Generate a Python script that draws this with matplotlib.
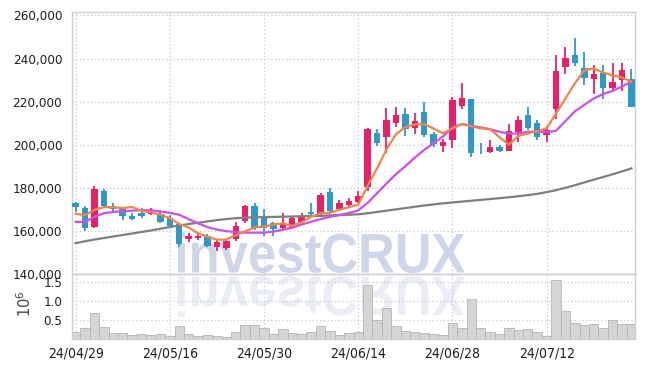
import matplotlib
matplotlib.use('Agg')
import matplotlib.pyplot as plt
import numpy as np
from matplotlib import font_manager as fm
from matplotlib.textpath import TextPath
from matplotlib.font_manager import FontProperties
from matplotlib.patches import PathPatch
from matplotlib.transforms import Affine2D, IdentityTransform

# ---------------- data (prices in thousand won, volume in millions) ----------------
opens = [173.0, 170.8, 162.0, 178.7, 171.6, 170.2, 167.1, 168.2, 167.8, 167.9,
         166.2, 163.1, 156.3, 156.6, 157.5, 152.7, 152.0, 156.3, 164.8, 171.6,
         166.0, 163.6, 161.3, 161.7, 164.3, 168.7, 167.9, 178.1, 170.2, 172.1,
         173.6, 180.6, 205.3, 203.5, 210.0, 214.3, 207.9, 215.2, 205.0, 199.6,
         202.2, 218.0, 221.3, 198.7, 196.8, 199.1, 197.3, 205.8, 213.8, 210.0,
         204.6, 216.5, 236.0, 241.7, 235.5, 230.7, 233.2, 226.5, 230.1, 230.5]
highs = [173.3, 171.6, 181.0, 179.3, 172.9, 170.5, 168.2, 170.5, 170.8, 169.0,
         167.4, 163.5, 159.2, 159.2, 158.5, 156.0, 156.0, 164.3, 171.8, 172.9,
         170.1, 164.0, 168.2, 166.8, 168.2, 173.1, 177.5, 179.8, 174.4, 175.2,
         178.6, 207.6, 207.2, 216.9, 217.4, 216.9, 214.9, 220.0, 205.9, 202.8,
         222.0, 228.5, 221.3, 200.7, 202.2, 199.8, 209.5, 213.5, 217.4, 211.5,
         208.7, 241.7, 245.5, 249.4, 243.2, 237.0, 237.0, 237.8, 238.1, 235.0]
lows = [169.0, 160.0, 161.5, 170.5, 169.3, 165.1, 165.0, 165.9, 167.5, 163.6,
        162.0, 152.7, 155.0, 155.7, 152.5, 150.7, 151.2, 155.5, 163.7, 160.5,
        157.7, 157.7, 160.8, 160.9, 163.8, 167.6, 166.4, 168.9, 169.3, 171.0,
        172.9, 178.7, 199.4, 196.3, 208.4, 204.1, 205.2, 203.6, 199.0, 196.8,
        198.4, 216.4, 194.2, 195.7, 196.0, 196.8, 197.3, 201.4, 206.9, 202.3,
        201.4, 211.8, 232.7, 236.6, 227.8, 223.4, 221.1, 224.4, 225.0, 217.7]
closes = [171.3, 161.3, 179.5, 171.7, 170.1, 167.1, 165.4, 167.1, 168.8, 164.0,
          162.5, 154.0, 157.7, 157.7, 153.0, 155.0, 155.4, 162.3, 171.6, 161.3,
          161.3, 160.8, 163.3, 166.2, 167.0, 167.9, 176.7, 169.4, 172.9, 174.1,
          176.4, 207.2, 201.0, 211.5, 213.8, 207.2, 211.0, 204.6, 200.4, 201.4,
          220.8, 221.7, 196.3, 198.3, 199.1, 197.3, 206.4, 211.5, 207.9, 203.8,
          206.9, 234.2, 240.1, 238.1, 231.1, 232.9, 226.5, 229.3, 234.7, 217.7]
volumes = [0.18, 0.29, 0.68, 0.31, 0.16, 0.16, 0.11, 0.14, 0.11, 0.14,
           0.09, 0.34, 0.14, 0.09, 0.11, 0.09, 0.05, 0.20, 0.37, 0.37,
           0.29, 0.14, 0.26, 0.16, 0.13, 0.20, 0.35, 0.22, 0.11, 0.16,
           0.18, 1.41, 0.50, 0.81, 0.35, 0.22, 0.18, 0.16, 0.13, 0.11,
           0.42, 0.29, 1.04, 0.29, 0.18, 0.14, 0.29, 0.24, 0.26, 0.18,
           0.09, 1.55, 0.74, 0.42, 0.37, 0.39, 0.29, 0.50, 0.39, 0.39]
ma_short = [168.0, 167.3, 169.8, 171.0, 171.0, 170.6, 171.1, 169.3, 168.6, 167.5,
            166.0, 163.2, 161.6, 158.9, 157.3, 155.9, 156.0, 158.0, 159.8, 161.6,
            162.0, 163.0, 163.5, 162.3, 164.0, 166.5, 168.2, 168.4, 169.8, 171.0,
            172.1, 181.0, 189.0, 197.8, 204.8, 208.2, 209.4, 209.6, 207.5, 205.3,
            207.5, 209.6, 208.6, 207.6, 207.2, 203.5, 200.0, 204.1, 205.2, 206.3,
            207.6, 214.5, 221.5, 228.5, 234.5, 235.4, 233.5, 232.2, 231.2, 229.2]
ma_mid = [164.2, 164.2, 166.5, 168.2, 168.8, 169.1, 169.4, 169.6, 169.6, 169.0,
          168.4, 167.5, 165.5, 163.5, 161.8, 160.6, 159.9, 159.4, 159.2, 159.2,
          159.2, 159.7, 160.5, 161.5, 163.0, 164.2, 165.5, 166.5, 167.3, 168.3,
          169.5, 173.0, 177.5, 182.0, 186.3, 190.0, 194.0, 197.6, 200.7, 203.8,
          208.0, 209.6, 208.8, 208.0, 207.2, 206.0, 205.2, 205.2, 206.0, 206.2,
          205.8, 206.5, 211.0, 215.5, 218.5, 221.5, 223.5, 225.0, 227.0, 229.3]
ma_long = [154.3, 155.2, 156.0, 156.7, 157.4, 158.1, 158.8, 159.5, 160.2, 161.0,
           161.8, 162.5, 163.2, 163.8, 164.4, 165.0, 165.5, 165.9, 166.2, 166.3,
           166.4, 166.5, 166.6, 166.7, 166.8, 166.9, 167.0, 167.2, 167.4, 167.5,
           167.7, 168.2, 168.8, 169.4, 170.0, 170.6, 171.2, 171.8, 172.3, 172.8,
           173.2, 173.6, 174.0, 174.4, 174.8, 175.2, 175.6, 176.1, 176.6, 177.2,
           178.0, 178.9, 180.0, 181.2, 182.5, 183.8, 185.0, 186.3, 187.6, 189.0]
tick_pos = [0, 10, 20, 30, 40, 50]
tick_labels = ['24/04/29', '24/05/16', '24/05/30', '24/06/14', '24/06/28', '24/07/12']
price_ticks = [140000, 160000, 180000, 200000, 220000, 240000, 260000]
vol_ticks = [0.5, 1.0, 1.5]

# ---------------- font: prefer a condensed face if one is installed ----------------
cond = None
for f in fm.fontManager.ttflist:
    nm = f.name
    if ('Narrow' in nm or 'Condensed' in nm or f.stretch in ('condensed', 'semi-condensed')) \
            and f.style == 'normal' and f.weight in (400, 500, 'normal', 'regular', 'medium'):
        cond = f
        break
if cond is not None:
    TICKFONT = FontProperties(fname=cond.fname)
    SZ = 9.6
else:
    TICKFONT = FontProperties(family=['Liberation Sans', 'DejaVu Sans'])
    SZ = 9.0

RED = '#e8206a'
BLUE = '#3098c8'
TXT = '#1e1e1e'
GRID = '#c6c9da'
SPINE = '#cfcfd6'

W, H = 645, 368
fig = plt.figure(figsize=(W / 100, H / 100), dpi=100)
fig.patch.set_facecolor('white')

L, R = 72, 635
P_TOP, P_BOT = 12, 274
V_BOT = 339.3
axp = fig.add_axes([L / W, 1 - P_BOT / H, (R - L) / W, (P_BOT - P_TOP) / H])
axv = fig.add_axes([L / W, 1 - V_BOT / H, (R - L) / W, (V_BOT - P_BOT) / H])
for ax in (axp, axv):
    ax.set_facecolor('none')
    for s in ax.spines.values():
        s.set_color(SPINE)
        s.set_linewidth(1.0)

# ---------------- watermark ----------------
fp = FontProperties(family=['Liberation Sans', 'DejaVu Sans'], weight='bold')
tp = TextPath((0, 0), 'investCRUX', size=100, prop=fp)
ext = tp.get_extents()
x0, x1 = 178, 465
top_img, base_img = 232, 273
sx = (x1 - x0) / ext.width
sy = (base_img - top_img) / ext.height
t_main = Affine2D().translate(-ext.x0, -ext.y0).scale(sx, sy).translate(x0, H - base_img)
fig.add_artist(PathPatch(t_main.transform_path(tp), transform=IdentityTransform(),
                         facecolor='#d0d6ea', edgecolor='none', zorder=-5))
t_ref = Affine2D().translate(-ext.x0, -ext.y0).scale(sx, -sy).translate(x0, H - 276)
fig.add_artist(PathPatch(t_ref.transform_path(tp), transform=IdentityTransform(),
                         facecolor='#d3d9eb', edgecolor='none', alpha=0.45, zorder=-5))

# ---------------- price panel ----------------
n = len(opens)
x = np.arange(n)
o = np.array(opens) * 1000
h = np.array(highs) * 1000
lo = np.array(lows) * 1000
c = np.array(closes) * 1000
cols = np.where(c >= o, RED, BLUE)
axp.vlines(x, lo, h, colors=cols, linewidth=1.3, zorder=3)
body_b = np.minimum(o, c)
body_h = np.maximum(np.abs(c - o), 300)
axp.bar(x, body_h, bottom=body_b, width=0.68, color=cols, linewidth=0, zorder=4)

axp.plot(x, np.array(ma_long) * 1000, color='#7f7f7f', linewidth=1.6, zorder=5)
axp.plot(x, np.array(ma_mid) * 1000, color='#cc4fe6', linewidth=1.6, zorder=5)
axp.plot(x, np.array(ma_short) * 1000, color='#f0844a', linewidth=1.6, zorder=5)

axp.set_xlim(-0.38, n - 1 + 0.38)
axp.set_ylim(140000, 261600)
axp.set_yticks(price_ticks)
axp.set_yticklabels([f'{v:,.0f}' for v in price_ticks], fontproperties=TICKFONT,
                    fontsize=SZ, color=TXT)
axp.set_xticks(tick_pos)
axp.tick_params(axis='x', labelbottom=False, length=0)
axp.tick_params(axis='y', length=0, pad=7)
axp.grid(True, linestyle=(0, (1, 2)), color=GRID, linewidth=0.9, zorder=0)
axp.set_axisbelow(True)

# ---------------- volume panel ----------------
axv.bar(x, volumes, width=1.0, color='#d5d5d5', edgecolor='#b5b5b5', linewidth=0.6, zorder=3)
axv.set_xlim(axp.get_xlim())
axv.set_ylim(0, 1.70)
axv.set_yticks(vol_ticks)
axv.set_yticklabels([f'{v:.1f}' for v in vol_ticks], fontproperties=TICKFONT,
                    fontsize=SZ, color=TXT)
axv.set_xticks(tick_pos)
axv.set_xticklabels(tick_labels, fontproperties=TICKFONT, fontsize=SZ + 0.4, color=TXT)
axv.tick_params(axis='y', length=0, pad=7)
axv.tick_params(axis='x', length=0, pad=5)
axv.grid(True, linestyle=(0, (1, 2)), color=GRID, linewidth=0.9, zorder=0)
axv.set_axisbelow(True)
axv.set_ylabel(r'$10^{6}$', fontsize=10.5, color='#444444', rotation=90)
axv.yaxis.set_label_coords(-0.068, 0.55)

fig.savefig('out.png', dpi=100, facecolor='white')
